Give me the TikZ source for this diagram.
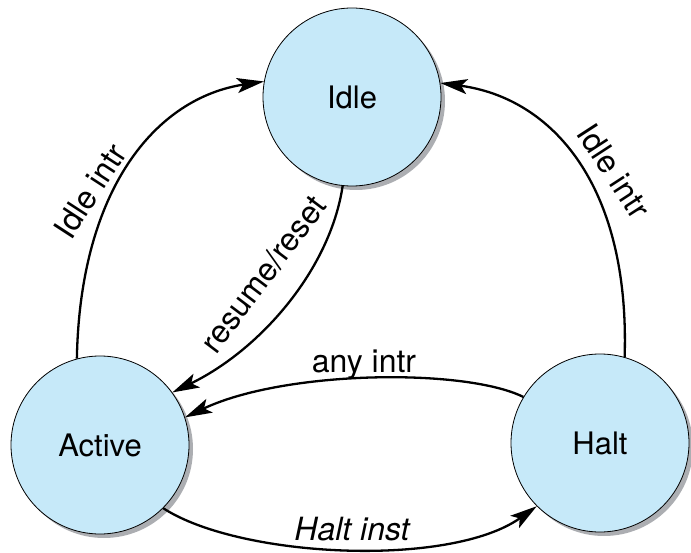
\documentclass[tikz,border=0pt]{standalone}
\usepackage{fontspec}
\setmainfont{TeX Gyre Heros}
\usetikzlibrary{arrows.meta,shadows}
\definecolor{stfill}{RGB}{198,233,249}
\definecolor{stshadow}{RGB}{172,174,178}
\begin{document}
\begin{tikzpicture}[x=1pt,y=-1pt,
  state/.style={circle, draw=black, line width=0.8pt, fill=stfill,
    minimum size=178pt, inner sep=0pt, font=\fontsize{31}{36}\selectfont,
    general shadow={fill=stshadow, shadow xshift=4pt, shadow yshift=-4pt}},
  trans/.style={line width=2.3pt, -{Stealth[length=27pt,width=15pt,inset=6pt]}},
  lbl/.style={font=\fontsize{32}{38}\selectfont, inner sep=0pt}]
\useasboundingbox (0,0) rectangle (691,553);
\node[state] (idle) at (352,97) {Idle};
\node[state] (active) at (100,445) {Active};
\node[state] (halt) at (600,443) {Halt};

\draw[trans] (active.105) .. controls (80,190) and (155,98) .. (idle.170);
\draw[trans] (halt.74) .. controls (630,185) and (552,98) .. (idle.9);
\draw[trans] (idle.264) .. controls (330,270) and (260,350) .. (active.36);
\draw[trans] (halt.149) .. controls (465,368) and (285,370) .. (active.18);
\draw[trans] (active.-45) .. controls (240,558) and (450,568) .. (halt.225);

\node[lbl, rotate=57] (l1) at (90,191) {Idle intr};
\node[lbl, rotate=-57] (l2) at (614,171) {Idle intr};
\node[lbl, rotate=53] (l3) at (263,274) {resume/reset};
\node[lbl, anchor=base] (l4) at (364,373) {any intr};
\node[lbl, anchor=base, font=\fontsize{32}{38}\selectfont\itshape] (l5) at (352,540) {Halt inst};
\end{tikzpicture}
\end{document}
